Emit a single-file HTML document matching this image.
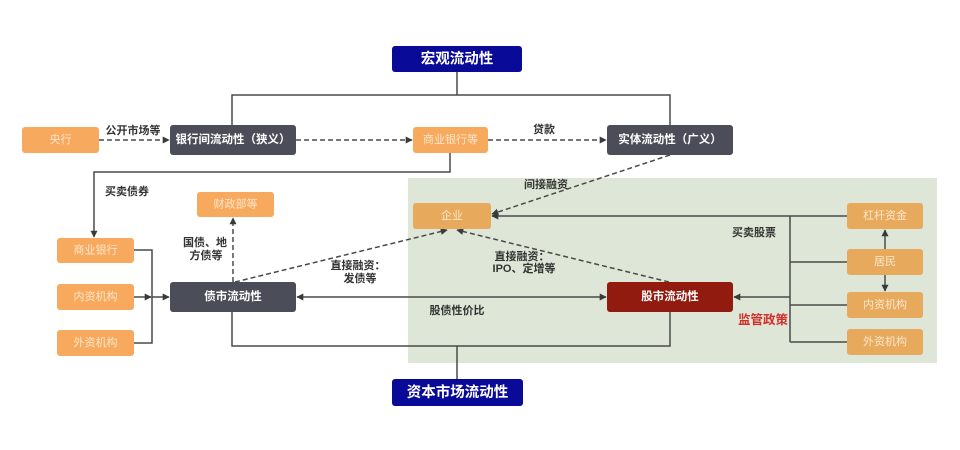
<!DOCTYPE html>
<html><head><meta charset="utf-8"><style>
html,body{margin:0;padding:0;background:#fff;}
svg{display:block;}
text{font-family:"Liberation Sans","Noto Sans CJK SC",sans-serif;}
.bt{fill:#fff;font-weight:bold;font-size:11.5px;text-anchor:middle;dominant-baseline:central;}
.ot{fill:#fde6cc;font-size:11px;text-anchor:middle;dominant-baseline:central;}
.lb{fill:#333;font-size:11px;font-weight:bold;text-anchor:middle;dominant-baseline:central;}
.nv{fill:#fff;font-weight:bold;font-size:14.5px;text-anchor:middle;dominant-baseline:central;}
.ln{stroke:#4a4a4a;stroke-width:1.5;fill:none;}
.ds{stroke:#4a4a4a;stroke-width:1.5;fill:none;stroke-dasharray:5 3;}
</style></head><body>
<svg width="960" height="450" viewBox="0 0 960 450" xmlns="http://www.w3.org/2000/svg">
<defs>
<marker id="a" viewBox="0 0 10 10" refX="9" refY="5" markerWidth="7" markerHeight="7" orient="auto-start-reverse" markerUnits="userSpaceOnUse"><path d="M0,0 L10,5 L0,10 z" fill="#3a3a3a"/></marker>
</defs>
<rect x="408" y="178" width="529" height="185" fill="#dee7d7"/>

<!-- macro connectors -->
<path class="ln" d="M457,72 V95 M232,125 V95 H670 V125"/>
<!-- capital connectors -->
<path class="ln" d="M457,379 V346 M232,312 V346 H670 V312"/>

<!-- dashed top row -->
<line class="ds" x1="99" y1="140" x2="169" y2="140" marker-end="url(#a)"/>
<line class="ds" x1="296" y1="140" x2="412" y2="140" marker-end="url(#a)"/>
<line class="ds" x1="488" y1="140" x2="606" y2="140" marker-end="url(#a)"/>

<!-- 商业银行等 -> 商业银行 -->
<path class="ln" d="M450,153 V172 H94 V237" marker-end="url(#a)"/>

<!-- left group -->
<path class="ln" d="M134,250 H152 V343 H134"/>
<line class="ln" x1="134" y1="297" x2="151" y2="297" marker-end="url(#a)"/>
<line class="ln" x1="152" y1="297" x2="169" y2="297" marker-end="url(#a)"/>

<!-- bond dashed -->
<line class="ds" x1="233" y1="282" x2="233" y2="218" marker-end="url(#a)"/>
<line class="ds" x1="235" y1="282" x2="447" y2="230" marker-end="url(#a)"/>
<line class="ds" x1="669" y1="282" x2="457" y2="230" marker-end="url(#a)"/>
<line class="ds" x1="670" y1="155" x2="492" y2="214" marker-end="url(#a)"/>

<!-- bond <-> stock -->
<line class="ln" x1="297" y1="297" x2="606" y2="297" marker-start="url(#a)" marker-end="url(#a)"/>

<!-- right group -->
<line class="ln" x1="847" y1="216" x2="492" y2="216" marker-end="url(#a)"/>
<path class="ln" d="M790,216 V342 M847,262 H790 M847,305 H790 M847,342 H790"/>
<line class="ln" x1="790" y1="297" x2="734" y2="297" marker-end="url(#a)"/>
<line class="ln" x1="885" y1="249" x2="885" y2="230" marker-end="url(#a)"/>
<line class="ln" x1="885" y1="275" x2="885" y2="291" marker-end="url(#a)"/>

<!-- boxes -->
<rect x="392" y="46" width="130" height="26" rx="3" fill="#0a0a98"/>
<text class="nv" x="457" y="59.5">宏观流动性</text>
<rect x="392" y="379" width="131" height="27" rx="3" fill="#0a0a98"/>
<text class="nv" x="457.5" y="393">资本市场流动性</text>

<rect x="22" y="127" width="77" height="26" rx="3" fill="#f7aa5e"/>
<text class="ot" x="60.5" y="140">央行</text>
<rect x="170" y="125" width="126" height="30" rx="3" fill="#4b4e59"/>
<text class="bt" x="233" y="140">银行间流动性（狭义）</text>
<rect x="413" y="127" width="75" height="26" rx="3" fill="#f7aa5e"/>
<text class="ot" x="450.5" y="140">商业银行等</text>
<rect x="607" y="125" width="126" height="30" rx="3" fill="#4b4e59"/>
<text class="bt" x="670" y="140">实体流动性（广义）</text>

<rect x="197" y="192" width="77" height="25" rx="3" fill="#f7aa5e"/>
<text class="ot" x="235.5" y="204.5">财政部等</text>

<rect x="57" y="238" width="77" height="25" rx="3" fill="#f7aa5e"/>
<text class="ot" x="95.5" y="250.5">商业银行</text>
<rect x="57" y="284" width="77" height="26" rx="3" fill="#f7aa5e"/>
<text class="ot" x="95.5" y="297">内资机构</text>
<rect x="57" y="330" width="77" height="26" rx="3" fill="#f7aa5e"/>
<text class="ot" x="95.5" y="343">外资机构</text>

<rect x="170" y="282" width="126" height="30" rx="3" fill="#4b4e59"/>
<text class="bt" x="233" y="297">债市流动性</text>

<rect x="413" y="203" width="78" height="26" rx="3" fill="#e7a95c"/>
<text class="ot" x="452" y="216">企业</text>

<rect x="607" y="282" width="126" height="30" rx="3" fill="#921b10"/>
<text class="bt" x="670" y="297">股市流动性</text>

<rect x="847" y="203" width="76" height="26" rx="3" fill="#e7a95c"/>
<text class="ot" x="885" y="216">杠杆资金</text>
<rect x="847" y="249" width="76" height="26" rx="3" fill="#e7a95c"/>
<text class="ot" x="885" y="262">居民</text>
<rect x="847" y="292" width="76" height="26" rx="3" fill="#e7a95c"/>
<text class="ot" x="885" y="305">内资机构</text>
<rect x="847" y="329" width="76" height="26" rx="3" fill="#e7a95c"/>
<text class="ot" x="885" y="342">外资机构</text>

<!-- labels -->
<text class="lb" x="133" y="131">公开市场等</text>
<text class="lb" x="544" y="130">贷款</text>
<text class="lb" x="127" y="192">买卖债券</text>
<text class="lb" x="205" y="243">国债、地</text>
<text class="lb" x="206" y="256">方债等</text>
<text class="lb" x="358" y="266">直接融资：</text>
<text class="lb" x="360" y="279">发债等</text>
<text class="lb" x="546" y="185">间接融资</text>
<text class="lb" x="522" y="257">直接融资：</text>
<text class="lb" x="524" y="269">IPO、定增等</text>
<text class="lb" x="754" y="233">买卖股票</text>
<text class="lb" x="457" y="311">股债性价比</text>
<text x="763" y="320" style="fill:#d2302a;font-size:12.5px;font-weight:bold;text-anchor:middle;dominant-baseline:central;">监管政策</text>
</svg>
</body></html>
